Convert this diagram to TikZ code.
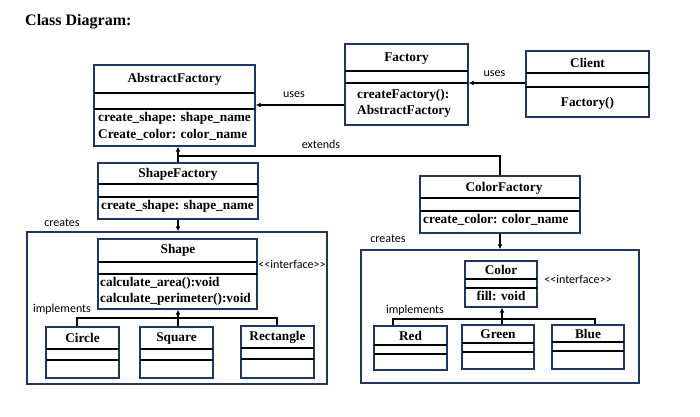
\documentclass[tikz,border=0pt]{standalone}
\usepackage{fontspec}
\setmainfont{Liberation Serif}
\newfontfamily\clsfont{Liberation Serif}
\newfontfamily\labfont{Carlito}
\usetikzlibrary{arrows.meta}
\definecolor{navy}{HTML}{1F3762}
\tikzset{
  clsbox/.style={draw=navy, line width=1.4pt, inner sep=0pt, rectangle},
  divline/.style={draw=black, line width=1.4pt},
  cname/.style={font=\clsfont\bfseries\fontsize{13.3}{16}\selectfont, inner sep=0pt},
  cmeth/.style={font=\clsfont\bfseries\fontsize{13.3}{16}\selectfont, inner sep=0pt, anchor=west},
  lab/.style={font=\labfont\fontsize{12}{14}\selectfont, inner sep=0pt},
  conn/.style={draw=black, line width=1.4pt},
  arr/.style={conn, -{Latex[length=5pt,width=5pt]}},
}
\newcommand\umlbox[7]{%
  \node[clsbox, minimum width={(#4-#2)*1pt}, minimum height={(#5-#3)*1pt}] (#1) at ({(#2+#4)/2},{(#3+#5)/2}) {};
  \draw[divline] (#2,#6) -- (#4,#6);
  \draw[divline] (#2,#7) -- (#4,#7);
}
\begin{document}
\begin{tikzpicture}[x=1pt,y=-1pt]
\path[use as bounding box, fill=white] (0,0) rectangle (700,416);

\node[font=\clsfont\bfseries\fontsize{16}{19}\selectfont, inner sep=0pt, anchor=west] (title) at (25,22) {Class Diagram:};

% packages
\node[clsbox, minimum width=300pt, minimum height=152pt] (shapepkg) at (177,308) {};
\node[clsbox, minimum width=278pt, minimum height=133pt] (colorpkg) at (500,316.5) {};

% classes
\umlbox{af}{94}{65}{255}{146}{93}{109}
\umlbox{factory}{345}{44}{468}{125}{71}{83}
\umlbox{client}{526}{51}{649}{117}{73}{87}
\umlbox{sf}{98}{163}{258}{219}{184}{197}
\umlbox{cf}{420}{176}{580}{233}{198}{211}
\umlbox{shape}{98}{239}{257}{309}{262}{274}
\umlbox{circ}{46}{327}{119}{378}{349}{360}
\umlbox{sq}{140}{327}{213}{378}{349}{360}
\umlbox{rect}{241}{326}{314}{378}{348}{359}
\umlbox{color}{465}{261}{537}{307}{279}{288}
\umlbox{red}{374}{326}{447}{370}{345}{354}
\umlbox{green}{462}{325}{534}{369}{343}{352}
\umlbox{blue}{552}{325}{624}{369}{342}{351}

% class texts
\node[cname] (afn) at (174.5,79) {AbstractFactory};
\node[cmeth] (afm1) at (98,118) {create\_shape: shape\_name};
\node[cmeth] (afm2) at (98,135) {Create\_color: color\_name};
\node[cname] (fn) at (406.5,59) {Factory};
\node[cmeth] (fm1) at (357,95) {createFactory():};
\node[cmeth] (fm2) at (357,111) {AbstractFactory};
\node[cname] (cln) at (587.5,63) {Client};
\node[cname] (clm) at (587.5,103) {Factory()};
\node[cname] (sfn) at (178,174) {ShapeFactory};
\node[cmeth] (sfm) at (101,206) {create\_shape: shape\_name};
\node[cname] (cfn) at (504,188) {ColorFactory};
\node[cmeth] (cfm) at (423,220) {create\_color: color\_name};
\node[cname] (shn) at (178,250) {Shape};
\node[cmeth] (shm1) at (100,283) {calculate\_area():void};
\node[cmeth] (shm2) at (100,299) {calculate\_perimeter():void};
\node[cname] (circn) at (82.5,338) {Circle};
\node[cname] (sqn) at (176.5,339) {Square};
\node[cname] (rectn) at (277.5,337) {Rectangle};
\node[cname] (coln) at (501,270) {Color};
\node[cname] (colm) at (501,296) {fill: void};
\node[cname] (redn) at (410.5,336) {Red};
\node[cname] (greenn) at (498,334) {Green};
\node[cname] (bluen) at (588,334) {Blue};

% labels
\node[lab] (uses1) at (494.5,74) {uses};
\node[lab] (uses2) at (294,95) {uses};
\node[lab] (ext) at (321,144) {extends};
\node[lab] (cr1) at (62,223) {creates};
\node[lab] (cr2) at (388,239) {creates};
\node[lab] (if1) at (292,264) {<<interface>>};
\node[lab] (if2) at (578,279) {<<interface>>};
\node[lab] (im1) at (62,309) {implements};
\node[lab] (im2) at (415,310) {implements};

% connectors
\draw[arr] (client.west |- 0,83) -- (factory.east |- 0,83);
\draw[arr] (factory.west |- 0,105) -- (af.east |- 0,105);
\coordinate (j1) at (178,156);
\draw[conn] (cf.north) |- (j1);
\draw[arr] (sf.north) -- (af.south -| j1);
\draw[arr] (sf.south) -- (shapepkg.north -| sf.south);
\draw[arr] (cf.south) -- (colorpkg.north -| cf.south);
\coordinate (sl) at (77,318);
\coordinate (sr) at (277,318);
\draw[conn] (circ.north -| sl) -- (sl) -- (sr) -- (rect.north -| sr);
\draw[arr] (sq.north -| 178,0) -- (shape.south -| 178,0);
\coordinate (cl) at (393,319);
\coordinate (cr) at (595,319);
\draw[conn] (red.north -| cl) -- (cl) -- (cr) -- (blue.north -| cr);
\draw[arr] (green.north -| 502,0) -- (color.south -| 502,0);
\end{tikzpicture}
\end{document}
